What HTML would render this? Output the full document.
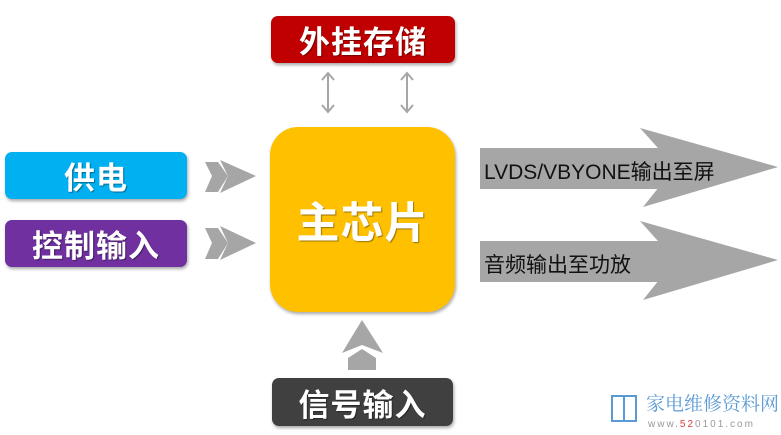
<!DOCTYPE html>
<html><head><meta charset="utf-8"><style>
body{margin:0;width:781px;height:435px;background:#fff;position:relative;overflow:hidden;font-family:"Liberation Sans","Noto Sans CJK SC",sans-serif}
.b{position:absolute;border-radius:7px;color:#fff;font-weight:bold;font-size:31px;display:flex;align-items:center;justify-content:center;box-shadow:1px 2px 3px rgba(0,0,0,.35);letter-spacing:1px;text-shadow:1px 1px 1px rgba(0,0,0,.4)}
.t{position:absolute;font-size:21px;color:#111}
</style></head><body>
<div class="b" style="left:271px;top:16px;width:184px;height:47px;background:#C00000">外挂存储</div>
<div class="b" style="left:5px;top:152px;width:182px;height:47px;background:#00B0F0">供电</div>
<div class="b" style="left:5px;top:220px;width:182px;height:47px;background:#7030A0">控制输入</div>
<div class="b" style="left:272px;top:378px;width:181px;height:48px;background:#404040">信号输入</div>
<div class="b" style="left:270px;top:127px;width:185px;height:185px;border-radius:28px;background:#FFC000;font-size:43px">主芯片</div>
<svg width="781" height="435" style="position:absolute;left:0;top:0">
<g fill="#a6a6a6">
<rect x="480" y="148" width="200" height="41"/>
<polygon points="640,128 778,167 643,207 675,167"/>
<rect x="480" y="241" width="200" height="41"/>
<polygon points="640,221 778,260 643,300 675,260"/>
<polygon points="205,162 218,162 228,176 218,192 205,192 212,176"/>
<polygon points="220,160 256,176 220,193 228,176"/>
<polygon points="205,228 218,228 228,243 218,259 205,259 212,243"/>
<polygon points="220,226 256,243 220,260 228,243"/>
<polygon points="362,320 383,353 362,345 342,353"/>
<polygon points="348,358 362,349 376,358 376,370 348,370"/>
</g>
<g stroke="#a6a6a6" stroke-width="2" fill="none">
<line x1="328" y1="73" x2="328" y2="112"/><polyline points="322,80 328,73 334,80"/><polyline points="322,105 328,112 334,105"/>
<line x1="407" y1="73" x2="407" y2="112"/><polyline points="401,80 407,73 413,80"/><polyline points="401,105 407,112 413,105"/>
</g>
<g fill="none" stroke="#5b9bd5" stroke-width="2"><path d="M612,396 v25 h12 v-25 z M624,396 v25 h12 v-25 z"/></g>
<text x="646" y="410" font-size="19" fill="#5b9bd5" font-family="Liberation Serif,Noto Serif CJK SC,serif">家电维修资料网</text>
<text x="648" y="427" font-size="10" fill="#999" letter-spacing="2">www.<tspan fill="#e04040">52</tspan>0101.com</text>
</svg>
<div class="t" style="left:484px;top:156px">LVDS/VBYONE输出至屏</div>
<div class="t" style="left:484px;top:249px">音频输出至功放</div>
</body></html>
